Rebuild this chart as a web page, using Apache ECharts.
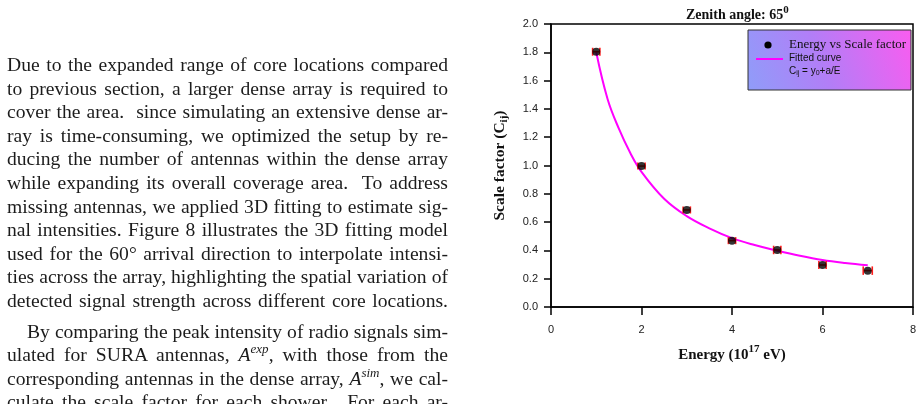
<!DOCTYPE html>
<html>
<head>
<meta charset="utf-8">
<script src="https://cdn.jsdelivr.net/npm/echarts@6/dist/echarts.min.js"></script>
<style>
	html, body { margin: 0; padding: 0; background: #fff; overflow: hidden; }
	#chart { position: absolute; left: 0; top: 0; width: 924px; height: 404px; }
	#text { position: absolute; left: 7px; top: 0; width: 441px; font-family: "Liberation Serif", "DejaVu Serif", serif; font-size: 19.6px; color: #1c1c1c; }
	.ln { position: absolute; left: 0; width: 441px; height: 24px; line-height: 24px; text-align: justify; text-align-last: justify; white-space: nowrap; }
	.ln.ind { left: 20px; width: 421px; }
	sup { font-size: 13px; line-height: 0; }
</style>
</head>
<body>
<div id="chart"></div>
<div id="text"></div>
<script>
// page text, one entry per printed line
const textLines = [
	"Due to the expanded range of core locations compared",
	"to previous section, a larger dense array is required to",
	"cover the area.&nbsp; since simulating an extensive dense ar-",
	"ray is time-consuming, we optimized the setup by re-",
	"ducing the number of antennas within the dense array",
	"while expanding its overall coverage area.&nbsp; To address",
	"missing antennas, we applied 3D fitting to estimate sig-",
	"nal intensities. Figure 8 illustrates the 3D fitting model",
	"used for the 60&deg; arrival direction to interpolate intensi-",
	"ties across the array, highlighting the spatial variation of",
	"detected signal strength across different core locations."
];
const textLines2 = [
	"By comparing the peak intensity of radio signals sim-",
	"ulated for SURA antennas, <i>A<sup>exp</sup></i>, with those from the",
	"corresponding antennas in the dense array, <i>A<sup>sim</sup></i>, we cal-",
	"culate the scale factor for each shower.&nbsp; For each ar-"
];

// chart data
const energy = [1, 2, 3, 4, 5, 6, 7];
const scaleFactor = [1.804, 0.996, 0.686, 0.469, 0.403, 0.297, 0.257];
const energyErr = [0.08, 0.08, 0.08, 0.08, 0.08, 0.08, 0.1];
const scaleErr = [0.028, 0.025, 0.025, 0.025, 0.03, 0.028, 0.03];
const fitEnergy = [1, 1.25, 1.5, 1.75, 2, 2.5, 3, 3.5, 4, 4.5, 5, 5.5, 6, 6.5, 7];
const fitScale = [1.80, 1.47, 1.26, 1.09, 0.955, 0.765, 0.642, 0.556, 0.487, 0.438, 0.398, 0.362, 0.332, 0.311, 0.295];
const xTicks = [0, 2, 4, 6, 8];

let html = "";
for ( let i = 0; i < textLines.length; i++ ) {
	html += `<div class="ln" style="top:${ 53 + i * 23.6 }px">${ textLines[i] }</div>`;
}
for ( let i = 0; i < textLines2.length; i++ ) {
	html += `<div class="ln${ i == 0 ? ' ind' : '' }" style="top:${ 320 + i * 23.3 }px">${ textLines2[i] }</div>`;
}
document.getElementById( 'text' ).innerHTML = html;

const serif = '"Liberation Serif", "DejaVu Serif", serif';
const sans = '"Liberation Sans", Arial, sans-serif';

const myChart = echarts.init( document.getElementById( 'chart' ), null, { renderer: 'canvas' } );
const options = {
	animation: false,
	title: {
		text: 'Zenith angle: 65{sup|0}',
		left: 681,
		top: 0,
		textStyle: {
			fontFamily: serif, fontWeight: 'bold', fontSize: 14, color: '#111',
			rich: {
				sup: { fontFamily: serif, fontWeight: 'bold', fontSize: 11, padding: [ 0, 0, 10, 0 ], color: '#111' }
			}
		}
	},
	grid: {
		left: 551, right: 11, top: 24, bottom: 97,
		show: true, borderColor: '#000', borderWidth: 1.5, backgroundColor: 'transparent'
	},
	// legend box drawn by hand: two marker rows plus the formula line
	graphic: [
		{
			type: 'rect',
			z: 3,
			shape: { x: 748, y: 30, width: 163, height: 60 },
			style: {
				fill: new echarts.graphic.LinearGradient( 0, 1, 1, 0, [
					{ offset: 0, color: '#8f9df9' },
					{ offset: 0.45, color: '#b27ef7' },
					{ offset: 1, color: '#fa5cf0' }
				] ),
				stroke: '#333',
				lineWidth: 1
			}
		},
		{ type: 'circle', z: 4, shape: { cx: 768, cy: 45, r: 3.6 }, style: { fill: '#000' } },
		{ type: 'line', z: 4, shape: { x1: 756, y1: 59, x2: 783, y2: 59 }, style: { stroke: '#ff00ff', lineWidth: 2 } },
		{
			type: 'text', z: 4, left: 789, top: 38,
			style: { text: 'Energy vs Scale factor', fontFamily: serif, fontSize: 13, fill: '#111' }
		},
		{
			type: 'text', z: 4, left: 789, top: 53,
			style: { text: 'Fitted curve', fontFamily: sans, fontSize: 10, fill: '#111' }
		},
		{
			type: 'text',
			z: 4,
			left: 789,
			top: 66,
			style: {
				text: 'C{s|ij} = y{s|0}+a/E',
				fontFamily: sans, fontSize: 10, fill: '#111',
				rich: { s: { fontFamily: sans, fontSize: 7, padding: [ 5, 0, 0, 0 ], fill: '#111' } }
			}
		}
	],
	xAxis: {
		type: 'value',
		min: 0,
		max: 8,
		interval: 2,
		name: 'Energy (10{sup|17} eV)',
		nameLocation: 'middle',
		nameGap: 37,
		nameTextStyle: {
			fontFamily: serif, fontWeight: 'bold', fontSize: 15, color: '#111',
			rich: { sup: { fontFamily: serif, fontWeight: 'bold', fontSize: 11, padding: [ 0, 0, 11, 0 ], color: '#111' } }
		},
		axisLine: { lineStyle: { color: '#000', width: 1.5 } },
		axisTick: { length: 8, lineStyle: { color: '#000', width: 1.5 } },
		axisLabel: {
			margin: 17, fontFamily: sans, fontSize: 11, color: '#222',
			formatter: v => xTicks.indexOf( v ) >= 0 ? String( v ) : ''
		},
		splitLine: { show: false }
	},
	yAxis: {
		type: 'value',
		min: 0,
		max: 2,
		interval: 0.2,
		name: 'Scale factor (C{sub|ij})',
		nameLocation: 'middle',
		nameGap: 41,
		nameTextStyle: {
			fontFamily: serif, fontWeight: 'bold', fontSize: 15.5, color: '#111',
			rich: { sub: { fontFamily: serif, fontWeight: 'bold', fontSize: 11, padding: [ 9, 0, 0, 0 ], color: '#111' } }
		},
		axisLine: { lineStyle: { color: '#000', width: 1.5 } },
		axisTick: { length: 7, lineStyle: { color: '#000', width: 1.5 } },
		axisLabel: {
			margin: 13, fontFamily: sans, fontSize: 11, color: '#222',
			formatter: v => v.toFixed( 1 )
		},
		splitLine: { show: false }
	},
	series: [
		{
			name: 'Fitted curve',
			type: 'line',
			data: fitEnergy.map( ( e, i ) => [ e, fitScale[i] ] ),
			smooth: 0.4,
			symbol: 'none',
			lineStyle: { color: '#ff00ff', width: 2 },
			itemStyle: { color: '#ff00ff' },
			z: 2
		},
		{
			name: 'errors',
			type: 'custom',
			data: energy.map( ( e, i ) => [ e, scaleFactor[i], energyErr[i], scaleErr[i] ] ),
			renderItem: function ( params, api ) {
				const e = api.value( 0 );
				const c = api.value( 1 );
				const left = api.coord( [ e - api.value( 2 ), c ] );
				const right = api.coord( [ e + api.value( 2 ), c ] );
				const top = api.coord( [ e, c + api.value( 3 ) ] );
				const bottom = api.coord( [ e, c - api.value( 3 ) ] );
				const st = { stroke: '#ff1a1a', lineWidth: 1.6 };
				return {
					type: 'group',
					children: [
						{ type: 'line', shape: { x1: left[0], y1: left[1], x2: right[0], y2: right[1] }, style: st },
						{ type: 'line', shape: { x1: left[0], y1: top[1], x2: left[0], y2: bottom[1] }, style: st },
						{ type: 'line', shape: { x1: right[0], y1: top[1], x2: right[0], y2: bottom[1] }, style: st }
					]
				};
			},
			z: 3
		},
		{
			name: 'Energy vs Scale factor',
			type: 'scatter',
			data: energy.map( ( e, i ) => [ e, scaleFactor[i] ] ),
			symbol: 'circle',
			symbolSize: 8,
			itemStyle: { color: '#000' },
			z: 4
		}
	]
};
myChart.setOption( options );
</script>
</body>
</html>
